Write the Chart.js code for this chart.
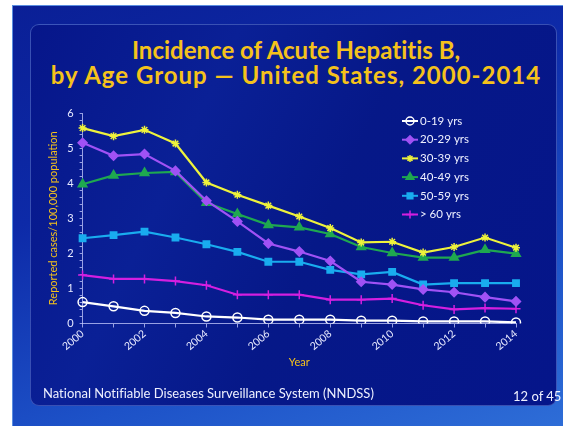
<!DOCTYPE html>
<html>
<head>
<meta charset="utf-8">
<script src="https://cdn.jsdelivr.net/npm/chart.js@4.4.1/dist/chart.umd.min.js"></script>
<style>
  html, body { margin: 0; padding: 0; background: #fff; }
  #page { position: relative; width: 563px; height: 426px; overflow: hidden; background: #fff; }
  #slide {
    position: absolute; left: 12px; top: 5px; width: 560px; height: 430px;
    background: linear-gradient(160deg, #0a1f96 0%, #0d2aa8 35%, #1d52c8 70%, #2f6fd8 100%);
    border-top: 1px solid #5a8ee0; border-left: 1px solid #5a8ee0;
  }
  #panel {
    position: absolute; left: 30px; top: 24px; width: 525px; height: 380px;
    border-radius: 9px; border: 1px solid rgba(120,150,230,0.45);
    background: linear-gradient(115deg, #06168a 0%, #0a2096 30%, #061888 55%, #05158a 100%);
  }
  #chartBox { position: absolute; left: 30px; top: 24px; width: 526px; height: 381px; }
  .title {
    position: absolute; left: 36px; width: 520px; text-align: center;
    font-family: Lato, sans-serif; font-weight: bold; font-size: 24px; color: #f5c21b;
    line-height: 26px; white-space: nowrap; font-variant-ligatures: none;
  }
  .foot {
    position: absolute; font-family: Lato, sans-serif; color: #eef0ff; font-size: 13px;
    font-variant-ligatures: none;
  }
</style>
</head>
<body>
<div id="page">
  <div id="slide"></div>
  <div id="panel"></div>
  <div class="title" style="top:37px;">Incidence of Acute Hepatitis B,</div>
  <div class="title" style="top:62px; letter-spacing:1px;">by Age Group &mdash; United States, 2000-2014</div>
  <div id="chartBox"><canvas id="hepChart" width="526" height="381"></canvas></div>
  <div class="foot" style="left:43px; top:385px;">National Notifiable Diseases Surveillance System (NNDSS)</div>
  <div class="foot" style="left:513px; top:388px;">12 of 45</div>
</div>
<script>
const years = ['2000', '2001', '2002', '2003', '2004', '2005', '2006', '2007',
  '2008', '2009', '2010', '2011', '2012', '2013', '2014'];

// reported cases per 100,000 population
const age0to19 = [0.61, 0.49, 0.36, 0.30, 0.20, 0.17, 0.11, 0.11, 0.11, 0.08, 0.08, 0.06, 0.06, 0.06, 0.03];
const age20to29 = [5.15, 4.78, 4.83, 4.35, 3.50, 2.91, 2.28, 2.05, 1.78, 1.19, 1.11, 0.97, 0.89, 0.75, 0.63];
const age30to39 = [5.57, 5.34, 5.52, 5.13, 4.02, 3.67, 3.36, 3.05, 2.72, 2.31, 2.33, 2.02, 2.18, 2.45, 2.16];
const age40to49 = [3.97, 4.22, 4.29, 4.32, 3.44, 3.12, 2.81, 2.74, 2.55, 2.18, 2.01, 1.88, 1.88, 2.10, 1.99];
const age50to59 = [2.43, 2.52, 2.62, 2.45, 2.26, 2.04, 1.76, 1.76, 1.53, 1.40, 1.47, 1.11, 1.15, 1.15, 1.15];
const age60plus = [1.38, 1.27, 1.27, 1.21, 1.09, 0.82, 0.82, 0.82, 0.68, 0.68, 0.71, 0.52, 0.40, 0.44, 0.42];

const seriesLabels = ['0-19 yrs', '20-29 yrs', '30-39 yrs', '40-49 yrs', '50-59 yrs', '> 60 yrs'];
const axisColor = 'rgba(200,205,255,0.75)';
const gold = '#f5c21b';

function series(label, values, color, pointStyle, radius, fill) {
  return {
    label: label,
    data: values,
    borderColor: color,
    backgroundColor: fill,
    pointBorderColor: color,
    pointBackgroundColor: fill,
    pointStyle: pointStyle,
    pointRadius: radius,
    pointBorderWidth: 1.5,
    borderWidth: 2.2,
    tension: 0
  };
}

// line-plus-marker legend in the upper right of the plot
const lineLegend = {
  id: 'lineLegend',
  afterDatasetsDraw(chart) {
    const ctx = chart.ctx;
    const area = chart.chartArea;
    const x0 = area.right - 114;
    const y0 = area.top + 8;
    ctx.save();
    chart.data.datasets.forEach((ds, i) => {
      const y = y0 + i * 18.7;
      ctx.strokeStyle = ds.borderColor;
      ctx.lineWidth = 2;
      ctx.beginPath();
      ctx.moveTo(x0, y);
      ctx.lineTo(x0 + 16, y);
      ctx.stroke();
      ctx.fillStyle = ds.pointBackgroundColor;
      ctx.strokeStyle = ds.pointBorderColor;
      ctx.lineWidth = 1.5;
      Chart.helpers.drawPoint(ctx, { pointStyle: ds.pointStyle, radius: ds.pointRadius - 0.5, borderWidth: 1.5 }, x0 + 8, y);
      ctx.fillStyle = '#eef0ff';
      ctx.font = '11.5px Lato';
      ctx.textBaseline = 'middle';
      ctx.textAlign = 'left';
      ctx.fillText(ds.label, x0 + 18, y);
    });
    ctx.restore();
  }
};

new Chart(document.getElementById('hepChart'), {
  type: 'line',
  data: {
    labels: years,
    datasets: [
      series(seriesLabels[0], age0to19, '#ffffff', 'circle', 4.5, 'rgba(0,0,0,0)'),
      series(seriesLabels[1], age20to29, '#a052f5', 'rectRot', 4.5, '#a052f5'),
      series(seriesLabels[2], age30to39, '#eef23c', 'star', 4, '#eef23c'),
      series(seriesLabels[3], age40to49, '#1fa850', 'triangle', 5, '#1fa850'),
      series(seriesLabels[4], age50to59, '#19acef', 'rect', 4.5, '#19acef'),
      series(seriesLabels[5], age60plus, '#d41fe0', 'cross', 4.5, '#d41fe0')
    ]
  },
  options: {
    responsive: false,
    animation: false,
    layout: { padding: { left: 13, right: 40, top: 89, bottom: 32 } },
    plugins: {
      legend: { display: false },
      tooltip: { enabled: false }
    },
    scales: {
      x: {
        border: { display: true, color: axisColor, width: 1 },
        grid: { drawOnChartArea: false, drawTicks: true, tickLength: 4, color: axisColor },
        ticks: {
          autoSkip: false,
          maxRotation: 40,
          minRotation: 40,
          color: '#e8eaff',
          font: { family: 'Lato', size: 10.5 },
          padding: 0,
          callback: function(value, index) {
            return index % 2 === 0 ? years[index] : '';
          }
        },
        title: {
          display: true,
          text: 'Year',
          color: gold,
          font: { family: 'Lato', size: 11 },
          padding: { top: 3 }
        }
      },
      y: {
        min: 0,
        max: 6,
        border: { display: true, color: axisColor, width: 1 },
        grid: { drawOnChartArea: false, drawTicks: true, tickLength: 3, color: axisColor },
        ticks: {
          stepSize: 0.2,
          autoSkip: false,
          color: '#e8eaff',
          font: { family: 'Lato', size: 11 },
          padding: 6,
          callback: function(value) {
            return Math.abs(value - Math.round(value)) < 1e-6 ? String(Math.round(value)) : '';
          }
        },
        title: {
          display: true,
          text: 'Reported cases/100,000 population',
          color: gold,
          font: { family: 'Lato', size: 11 },
          padding: { bottom: 1 }
        }
      }
    }
  },
  plugins: [lineLegend]
});
</script>
</body>
</html>
